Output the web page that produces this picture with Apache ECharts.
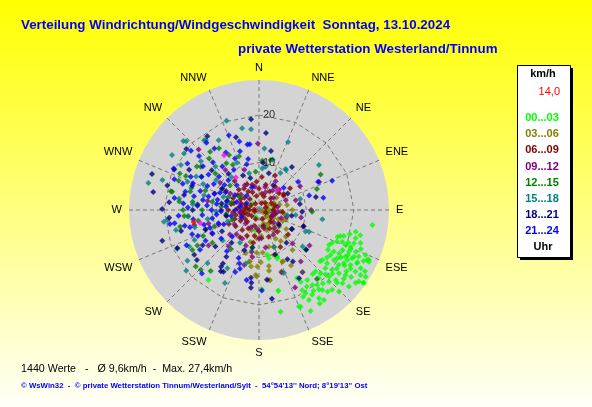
<!DOCTYPE html>
<html>
<head>
<meta charset="utf-8">
<script src="https://cdn.jsdelivr.net/npm/echarts@6/dist/echarts.min.js"></script>
<style>
html,body{margin:0;padding:0;}
#main{width:592px;height:407px;}
</style>
</head>
<body>
<div id="main"></div>
<script>
// Himmelsrichtungen (alle 22,5 Grad)
var richtungen = ['N','NNE','NE','ENE','E','ESE','SE','SSE','S','SSW','SW','WSW','W','WNW','NW','NNW'];
var ringe = [10, 20];
var maxWert = 27.4;

// Messwerte je Zeitraum: [Richtung in Grad, Geschwindigkeit km/h]
var zeit_00_03 = [
    [102.6,20.9],[106.3,21.2],[107,18.7],[107.7,18],[116.6,16.5],[114.4,16.9],[110.8,18.8],[112,19.7],[111.8,20.8],[109.3,21.2],
    [114.9,20.9],[115.6,19.5],[118.4,19.2],[118.3,20.7],[117.4,22.1],[113.3,22.2],[115,23.2],[112.9,24.4],[115.2,25.6],[118.5,23.5],
    [121,22.5],[122.1,21.1],[124.5,20.4],[123.7,19],[128,18.2],[128.3,17],[137.4,17.6],[135.7,18.6],[131.2,18.6],[129.3,19.9],
    [128.4,21.5],[126.9,22.8],[122.5,22.9],[122.5,24.1],[122.6,25.4],[124.9,26.8],[130.4,24.9],[131.3,23.4],[132.4,21.9],[135.7,21.1],
    [141.6,21.5],[142.1,20],[144.6,19.4],[145.4,17.9],[144.9,15.9],[151.6,19.2],[150.7,20.1],[147.9,21.1],[145.8,22.5],[144.2,23.4],
    [156.7,22.2],[151,21.7],[137.5,22.8],[135.6,24.1],[133.6,20.4],[138.7,19.1],[125.6,25.9],[114.8,25.1],[116.2,22.3],[119.5,21.4],
    [121.7,19.4],[122.1,17.8],[122,26.5],[119.8,24.7],[97.5,24.1],[168,21.9],[166.5,17.5],[157.5,22],[152.9,23.9],[114.4,25.4],
    [124.8,26.9],[149.8,17.5],[150.8,16.4],[215.9,18.2],[178,16.7],[166.6,17.5],
    [110,20],[113,21],[117,21],[119,18],[120,20],[123,21.5],[125,22.5],[127,20.5],[126,24],[129,23],
    [131,20.5],[133,22.5],[134,19.5],[139,20.5],[140,22.5],[143,21],[146,20.5],[148,19],[118,23.5],[116,24.5],
    [111,23],[108,22.5],[104,22],[105,19.8],[109,17.5],[112,17.7],[120,16.8],[125,17.5],[130,16.8],[140,17.6],
    [147,23.5],[153,20.5],[127,25.5],[120,25.8],
    [315,2],[160,4.1],[158.6,10.5],[190.3,7.9],[168.3,10.4],[206,1.6],[270,2.5],[190.4,8.6],[189.4,4.3],[169.5,9.6],
    [159.3,10.9],[120,3],[95,2]
];
var zeit_03_06 = [
    [90,3],[100,3.5],[110,3],[120,3.5],[130,3],[140,3.5],[80,3.5],[70,3],[95,4.5],[105,2],
    [115,4.5],[125,2],[135,4.5],[150,3.5],[160,3],[85,2],[75,4.5],[65,3.5],[100,5.5],[115,5.5],
    [130,5.5],[145,5.5],[160,4.5],[170,3.5],[175,5.5],[60,2],[140,2],[90,1],[120,1],[55,4.5],
    [110,6],[125,7],[135,8],[150,7],[165,8],[175,9],[183,9],[182,14],[171,15],[158,8.4],
    [155,12],[150,13.5],[140,11],[145,8],[190,11],[195,7],[200,4.5],[185,6],[90,7],[80,6],
    [45,5.5],[178,11],[188,12],[170,12],[160,13.8],[183,13.7],[171.9,14.9],[155.7,11.9],[161.6,10],[197,9.5],
    [181.7,11.9],[170.6,13],[191,11.1]
];
var zeit_06_09 = [
    [270,2],[280,3],[290,4],[300,4.5],[310,4],[320,3],[330,4.5],[340,4],[350,3],[0,4.5],
    [10,3.5],[20,3],[30,4.5],[45,3.5],[60,3],[75,3.5],[90,3],[105,3.5],[120,3],[135,3.5],
    [150,4.5],[165,3.5],[180,4.5],[195,3.5],[210,4.5],[225,3.5],[240,4.5],[255,3.5],[265,5.5],[275,4.5],
    [285,5.5],[295,6],[305,5.5],[315,6],[325,5.5],[335,6],[345,5.5],[355,6],[15,5.5],[35,6],
    [50,5.5],[140,6],[160,6],[175,6],[190,5.5],[205,6],[220,5.5],[235,6],[250,5.5],[260,3],
    [275,1],[230,2],[200,2],[160,2],[110,1.5],[70,1.5],[20,1.5],[330,1.5],[300,2],[250,1],
    [285,7],[270,6.5],[245,7],[215,7],[190,7],[5,7],[25,8],[55,8],[40,2],[95,5],
    [125,5],[150,9],[130,8],[60,6],[300,8],[320,8],[262,4],[278,2.5],[292,3],[248,2.5],
    [238,3.5],[282,6],[258,5],[268,3.5],[57,6.2]
];
var zeit_09_12 = [
    [315,18],[359,14],[45,6],[141,14],[104,6],[110,10],[188,10],[160,14],[223,7],[244,11],
    [257,14],[120,8],[100,9],[90,11],[75,8],[60,10],[30,7],[15,5],[340,9],[320,11],
    [300,7],[290,10],[280,11],[270,8],[260,7],[250,9],[240,6],[230,8],[220,10],[210,7],
    [200,8],[190,9],[180,6],[170,8],[150,6],[135,10],[110,5],[80,4],[50,4],[20,4],
    [350,5],[330,6],[310,5],[285,4],[265,4],[245,4],[225,4],[205,4],[185,4],[165,4],
    [130,4],[100,3],[305,10],[275,13],[255,11],[235,13],[195,12],[145,16],[125,13],[65,14],
    [155,18],[95,4],[115,3],[140,5],[70,6],[35,5]
];
var zeit_12_15 = [
    [294.8,18.4],[281.9,18.7],[315.9,15.1],[327,15.5],[306.6,15.3],[331.4,13.2],[277.1,14.1],[276,16.9],[339.7,12.1],[3.8,10.4],
    [13.1,10.8],[265.4,15.8],[228.2,17.9],[224.2,17.6],[218.4,16.4],[239,16.4],[130.1,12.9],[91.8,11.2],[215.8,10.2],[355,8.1],
    [300,14],[305,16],[295,17],[310,12],[290,12],[285,15],[280,10],[275,13],[270,12],[265,15],
    [260,13],[290,18],[320,16],[325,12],[330,11],[282,19],[270,16],[258,17],[250,10],[245,13],
    [240,15],[235,12],[300,9],[310,8],[285,6],[275,8],[263,7],[293,7],[305,5],[250,6],
    [60,15],[70,13],[140,19]
];
var zeit_15_18 = [
    [348.3,17.6],[354.4,17.1],[313.4,21.1],[321.8,18.7],[302.3,21.7],[283.7,24],[53.1,15.8],[23.1,15.6],[34,10.2],[244.6,19.1],
    [230.1,20],[205,17],[158.4,14.3],[322.7,18.5],[312.4,21.6],[287.2,21.3],[4.5,8.8],[307,19.8],[263.8,19.4],[242.3,16.6],
    [256.5,18],[291.5,16.2],[234.7,18.5],[224.1,15.6],[208.5,14],[194,11.6],[263,20.2],[157.8,8.4],[98.4,13.5],[113.5,11.5],
    [97.8,7.8],[114.9,10.8],[8.8,9.2],[33,10.3],
    [275,14],[285,12],[295,13],[305,11],[290,8],[280,7],[268,9],[260,11],[250,12],[315,13],
    [310,16],[298,15],[288,15],[278,17],[265,15],[255,14],[245,15],[320,9],[335,11],[345,8],
    [250,7],[230,10],[210,8],[300,19],[330,17],[340,20],[5,13],[15,11],[30,9],[130,12],
    [120,8],[100,6],[75,9]
];
var zeit_18_21 = [
    [355,19.2],[5.2,16.3],[11.5,12.7],[288.6,23.8],[279.6,22.6],[342.5,16.1],[81.7,8.7],[77.2,12.3],[37.5,11.4],[270.6,20.4],
    [252.3,21.4],[235.3,16.6],[186.7,14.4],[185.9,16.5],[171.7,18.9],[213.7,14.4],[231.1,16.8],[173.5,14.8],[295.6,19.8],[281.3,16.1],
    [92.2,9.1],[149.6,16.7],[146.7,13],[126.9,5.3],[212,15.2],[214,13.6],[186,15.4],
    [280,8],[300,9],[260,7],[240,9],[310,13],[270,14],[290,15],[250,12],[230,12],[320,10],
    [335,8],[255,17],[245,19],[275,19],[300,17],[310,20],[325,19],[285,20],[265,19],[238,14],
    [215,12],[210,15],[220,9],[200,9],[190,8],[160,10],[150,12],[140,9],[120,8],[110,10],
    [100,7],[130,13],[345,7],[5,10],[15,8],[30,6],[60,7]
];
var zeit_21_24 = [
    [285,11],[280,12],[290,10],[275,11],[295,12],[300,11],[288,13],[278,9],[270,10],[265,12],
    [282,14],[292,15],[305,13],[310,11],[298,8],[286,7],[276,7],[268,8],[260,10],[255,12],
    [250,11],[262,14],[272,15],[284,16],[296,16],[308,15],[316,14],[320,12],[314,9],[302,6],
    [290,5],[280,4],[270,5],[258,6],[248,8],[243,11],[247,14],[256,15],[266,17],[278,18],
    [290,19],[303,18],[312,17],[324,16],[330,14],[335,12],[328,10],[318,7],[306,9],[294,9],
    [284,9],[274,13],[264,9],[252,9],[240,13],[236,15],[244,17],[233,10],[225,8],[218,11],
    [300,14],[289,17],[275,16],[261,19],[296,20],[311,19],[322,18],[338,17],[344,15],[350,14],
    [342,13],[348,11],[352,14],[345,10],[343,5],[300,3],[250,4],[320,4],
    [54.2,10.2],[64.5,13.8],[68.2,16.6],[79.2,13.8],[74,11],[48,7],
    [200,12],[198,13],[201,14],[203,11],[178,17],[190,15],[222,18],[261,18],[250,15],[258,16]
];
var sonderwerte = [[327.5,13.7],[324.5,8.4],[43.5,5.8],[257.6,12.7]];
var aktuell = [[259.5,14.0]];

var zeitraeume = ['00...03','03...06','06...09','09...12','12...15','15...18','18...21','21...24'];
var farben = ['#00ff00','#808000','#800000','#800080','#008000','#008080','#000080','#0000ff'];
var werte = [zeit_00_03, zeit_03_06, zeit_06_09, zeit_09_12, zeit_12_15, zeit_15_18, zeit_18_21, zeit_21_24];

var dom_wind = document.getElementById("main");
var myChart_wind = echarts.init(dom_wind);

// Punkte fuer polar: [radius, winkel]
function punkte(arr) {
    return arr.map(function (p) { return [p[1], p[0]]; });
}

var serien = [];

// Ringe als 16-Eck (Linie zwischen den Strahlen)
ringe.forEach(function (r) {
    var ring = [];
    for (var j = 0; j <= richtungen.length; j++) {
        ring.push([r, j * 360 / richtungen.length]);
    }
    serien.push({
        type: 'line', coordinateSystem: 'polar', silent: true, z: 2,
        symbol: 'none',
        lineStyle: {color: '#777777', width: 1, type: [4, 3]},
        data: ring
    });
});

for (var i = 0; i < werte.length; i++) {
    serien.push({
        name: zeitraeume[i],
        type: 'scatter',
        coordinateSystem: 'polar',
        symbol: 'diamond',
        symbolSize: 6,
        z: 3,
        itemStyle: {color: farben[i]},
        data: punkte(werte[i])
    });
}
serien.push({type:'scatter', coordinateSystem:'polar', symbol:'diamond', symbolSize:6, z:3, itemStyle:{color:'#ff00ff'}, data: punkte(sonderwerte)});
serien.push({type:'scatter', coordinateSystem:'polar', symbol:'diamond', symbolSize:6, z:3, itemStyle:{color:'#ff0000'}, data: punkte(aktuell)});

// Beschriftung der Ringe rechts vom Nordstrahl
serien.push({
    type: 'scatter', coordinateSystem: 'polar', silent: true, z: 4,
    symbolSize: 0,
    label: {show: true, position: 'right', distance: 4, color: '#000', fontSize: 11, fontFamily: 'Arial',
        formatter: function (p) { return String(p.value[0]); }},
    data: ringe.map(function (r) { return [r, 0]; })
});

// Legende rechts
var legende = [
    {type:'rect', shape:{x:520, y:68, width:53, height:192}, style:{fill:'#000'}},
    {type:'rect', shape:{x:517.5, y:65.5, width:53, height:192}, style:{fill:'#fff', stroke:'#000', lineWidth:1}},
    {type:'text', style:{text:'km/h', x:543, y:74, fill:'#000', font:'bold 11px Arial', align:'center', textAlign:'center', verticalAlign:'middle', textVerticalAlign:'middle'}},
    {type:'text', style:{text:'14,0', x:560, y:92, fill:'#ff0000', font:'11px Arial', align:'right', textAlign:'right', verticalAlign:'middle', textVerticalAlign:'middle'}},
    {type:'text', style:{text:'Uhr', x:543, y:247, fill:'#000', font:'bold 11px Arial', align:'center', textAlign:'center', verticalAlign:'middle', textVerticalAlign:'middle'}}
];
for (var k = 0; k < zeitraeume.length; k++) {
    legende.push({type:'text', style:{text:zeitraeume[k], x:542, y:118 + k * 16.2, fill:farben[k], font:'bold 11px Arial', align:'center', textAlign:'center', verticalAlign:'middle', textVerticalAlign:'middle'}});
}

option_wind = {
    animation: false,
    backgroundColor: {
        type: 'linear', x: 0, y: 0, x2: 0, y2: 1,
        colorStops: [{offset: 0, color: '#ffff00'}, {offset: 1, color: '#fffff8'}]
    },
    graphic: [
        // graue Scheibe hinter dem Polardiagramm
        {type:'circle', z:-1, silent:true, shape:{cx:259, cy:210, r:130}, style:{fill:'#d4d4d4'}},
        {type:'text', style:{text:'Verteilung Windrichtung/Windgeschwindigkeit  Sonntag, 13.10.2024', x:21, y:25, fill:'#0000ff', font:'bold 13.35px Arial', verticalAlign:'middle', textVerticalAlign:'middle'}},
        {type:'text', style:{text:'private Wetterstation Westerland/Tinnum', x:238, y:49, fill:'#0000ff', font:'bold 13.35px Arial', verticalAlign:'middle', textVerticalAlign:'middle'}},
        {type:'text', style:{text:'1440 Werte   -   Ø 9,6km/h  -  Max. 27,4km/h', x:21, y:369, fill:'#000', font:'10.7px Arial', verticalAlign:'middle', textVerticalAlign:'middle'}},
        {type:'text', style:{text:"© WsWin32  -  © private Wetterstation Tinnum/Westerland/Sylt  -  54°54'13'' Nord; 8°19'13'' Ost", x:21, y:386, fill:'#0000ff', font:'bold 7.8px Arial', verticalAlign:'middle', textVerticalAlign:'middle'}}
    ].concat(legende),
    polar: {center: [259, 210], radius: 130},
    angleAxis: {
        type: 'value', min: 0, max: 360, interval: 22.5, startAngle: 90, clockwise: true,
        z: 1,
        axisLine: {show: false},
        axisTick: {show: false},
        axisLabel: {
            margin: 7, color: '#000', fontSize: 11, fontFamily: 'Arial',
            formatter: function (v) { var n = Math.round(v / 22.5); return n < 16 ? richtungen[n] : ''; }
        },
        splitLine: {show: true, lineStyle: {color: '#777777', type: [4, 3]}},
        splitArea: {show: false}
    },
    radiusAxis: {
        type: 'value', min: 0, max: maxWert, interval: 10,
        axisLine: {show: false},
        axisTick: {show: false},
        splitLine: {show: false},
        axisLabel: {show: false}
    },
    series: serien
};
if (option_wind && typeof option_wind === "object") {
    myChart_wind.setOption(option_wind, true);
}
</script>
</body>
</html>
